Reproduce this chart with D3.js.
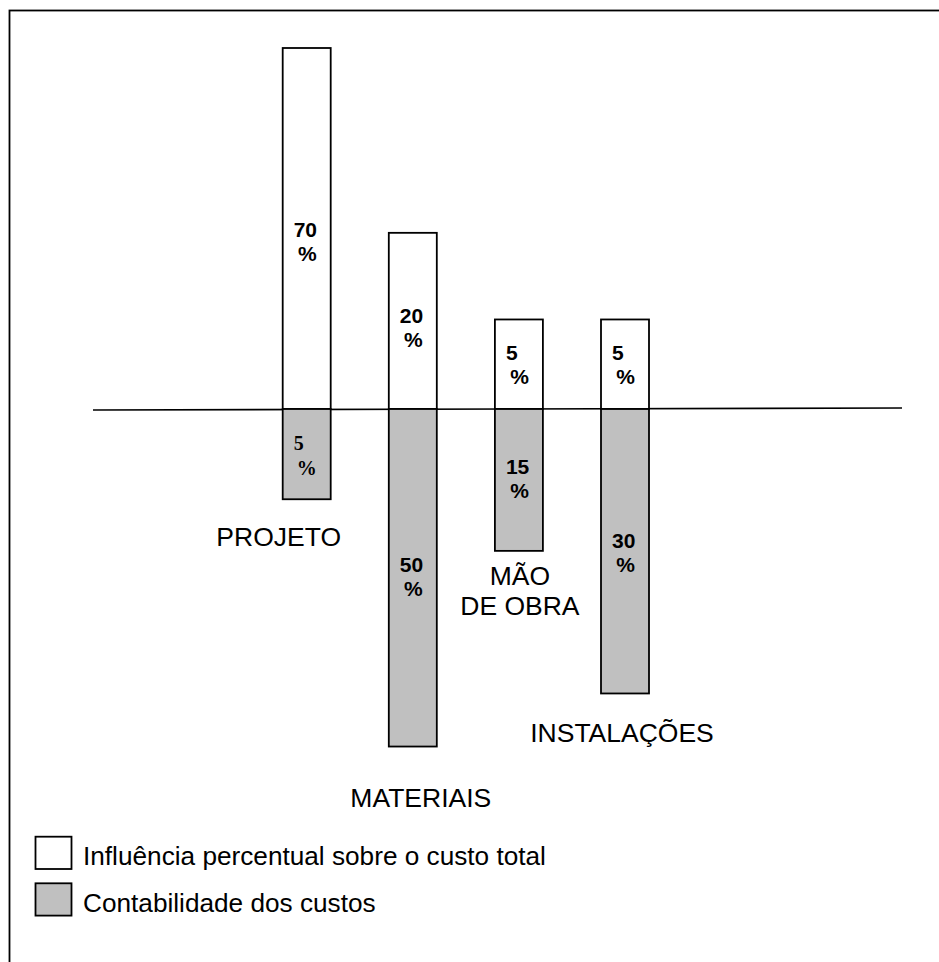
<!DOCTYPE html>
<html>
<head>
<meta charset="utf-8">
<script src="https://cdn.jsdelivr.net/npm/d3@7"></script>
<style>
    html, body { margin: 0; padding: 0; background: #fff; overflow: hidden; }
    svg { display: block; font-family: 'Liberation Sans', Arial, sans-serif; }
    text { fill: #000; }
</style>
</head>
<body>
<div id="chart"></div>
<script>
// categories and values
const categories = ['PROJETO', 'MATERIAIS', 'MÃO DE OBRA', 'INSTALAÇÕES'];
const categoryLines = [['PROJETO'], ['MATERIAIS'], ['MÃO', 'DE OBRA'], ['INSTALAÇÕES']];
const influenceValues = [70, 20, 5, 5];   // label above the axis
const costValues = [5, 50, 15, 30];       // label below the axis
// drawn bar lengths (the figure is not to scale), tallest bar = 100
const influenceBarSize = [100, 48.8, 24.8, 24.8];
const costBarSize = [25, 93.5, 39.3, 78.8];
const legendLabels = ['Influência percentual sobre o custo total', 'Contabilidade dos custos'];
const seriesColors = ['#ffffff', '#c0c0c0'];

// hand placed text in the original, nudges in px
const upperLabelNudge = [8, 2, -4, -4];
const lowerLabelNudge = [-4, -6, -6, -3];
const categoryLabelOffset = [[-28, 47], [8, 60], [1, 34], [-3, 49]];

const width = 939;
const height = 962;
const barWidth = 48;
const sansFont = "'Liberation Sans', Arial, sans-serif";
const serifFont = "'Liberation Serif', 'Times New Roman', serif";

const svg = d3.select('#chart')
    .append('svg')
    .attr('width', width)
    .attr('height', height);

// outer frame (cropped on the right and bottom)
svg.append('rect')
    .attr('x', 9.5)
    .attr('y', 10.5)
    .attr('width', 1000)
    .attr('height', 1000)
    .attr('fill', 'none')
    .attr('stroke', '#000')
    .attr('stroke-width', 1.8);

const xScale = d3.scalePoint()
    .domain(categories)
    .range([306.7, 625]);

const yScale = d3.scaleLinear()
    .domain([-100, 100])
    .range([770, 48]);

const y0 = yScale(0);

// zero line
svg.append('line')
    .attr('x1', 93)
    .attr('x2', 902)
    .attr('y1', y0 + 1)
    .attr('y2', y0 - 1)
    .attr('stroke', '#000')
    .attr('stroke-width', 1.6);

const rows = categories.map((c, i) => ({
    cat: c,
    i: i,
    up: influenceValues[i],
    down: costValues[i],
    upSize: influenceBarSize[i],
    downSize: costBarSize[i]
}));

// upper bars
svg.selectAll('.bar-up')
    .data(rows)
    .enter().append('rect')
    .attr('class', 'bar-up')
    .attr('x', d => xScale(d.cat) - barWidth / 2)
    .attr('y', d => yScale(d.upSize))
    .attr('width', barWidth)
    .attr('height', d => y0 - yScale(d.upSize))
    .attr('fill', seriesColors[0])
    .attr('stroke', '#000')
    .attr('stroke-width', 1.8);

// lower bars
svg.selectAll('.bar-down')
    .data(rows)
    .enter().append('rect')
    .attr('class', 'bar-down')
    .attr('x', d => xScale(d.cat) - barWidth / 2)
    .attr('y', y0)
    .attr('width', barWidth)
    .attr('height', d => yScale(-d.downSize) - y0)
    .attr('fill', seriesColors[1])
    .attr('stroke', '#000')
    .attr('stroke-width', 1.8);

// value labels, number on one line and % on the next
function addValueLabel(d, value, mid, nudge, serif) {
    const cx = xScale(d.cat);
    const font = serif ? serifFont : sansFont;
    const size = serif ? '20px' : '21px';
    svg.append('text')
        .attr('x', cx - 13)
        .attr('y', mid + nudge)
        .style('font-family', font)
        .style('font-size', size)
        .style('font-weight', 'bold')
        .text(value);
    svg.append('text')
        .attr('x', cx - (serif ? 10 : 8.7))
        .attr('y', mid + nudge + (serif ? 25 : 24))
        .style('font-family', font)
        .style('font-size', size)
        .style('font-weight', 'bold')
        .text('%');
}

rows.forEach(d => {
    const upMid = (yScale(d.upSize) + y0) / 2;
    const downMid = (yScale(-d.downSize) + y0) / 2;
    addValueLabel(d, d.up, upMid, upperLabelNudge[d.i], false);
    addValueLabel(d, d.down, downMid, lowerLabelNudge[d.i], d.i === 0);
});

// category names under the lower bars
rows.forEach(d => {
    const off = categoryLabelOffset[d.i];
    const t = svg.append('text')
        .attr('text-anchor', 'middle')
        .style('font-size', '26.5px')
        .attr('x', xScale(d.cat) + off[0])
        .attr('y', yScale(-d.downSize) + off[1]);
    categoryLines[d.i].forEach((line, k) => {
        t.append('tspan')
            .attr('x', xScale(d.cat) + off[0])
            .attr('dy', k === 0 ? 0 : 30)
            .text(line);
    });
});

// legend
const legend = svg.append('g')
    .attr('transform', 'translate(35.5, 836.7)');

const legendItem = legend.selectAll('.legend-item')
    .data(legendLabels)
    .enter().append('g')
    .attr('class', 'legend-item')
    .attr('transform', (d, i) => `translate(0, ${i * 46.6})`);

legendItem.append('rect')
    .attr('width', 36)
    .attr('height', 32.3)
    .attr('fill', (d, i) => seriesColors[i])
    .attr('stroke', '#000')
    .attr('stroke-width', 1.8);

legendItem.append('text')
    .attr('x', 47.5)
    .attr('y', 28.3)
    .style('font-size', '26.2px')
    .text(d => d);
</script>
</body>
</html>
